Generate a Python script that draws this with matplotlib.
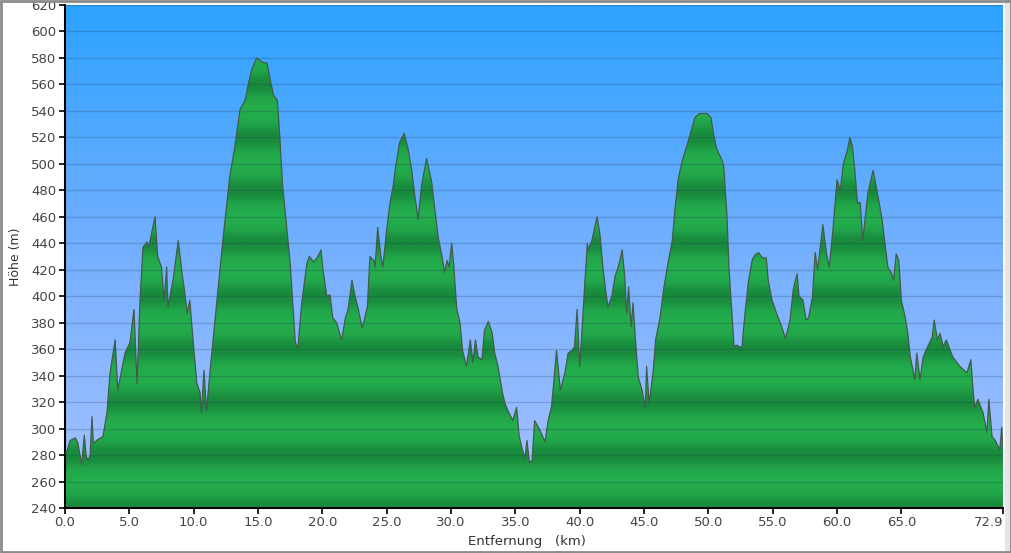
import numpy as np
import matplotlib
matplotlib.use("Agg")
import matplotlib.pyplot as plt
from matplotlib.colors import LinearSegmentedColormap
from matplotlib.patches import Polygon, Rectangle

# ---- data ----
km = [0.0, 0.15, 0.4, 0.8, 1.0, 1.3, 1.5, 1.65, 1.8, 1.95, 2.1, 2.2, 2.6, 2.95, 3.26, 3.5, 3.9, 4.1,
      4.66, 5.05, 5.36, 5.6, 5.83, 6.06, 6.37, 6.5, 7.0, 7.2, 7.5, 7.7, 7.9, 8.0, 8.4, 8.8, 9.1, 9.25,
      9.5, 9.7, 9.95, 10.25, 10.5, 10.6, 10.8, 11.0, 11.3, 11.8, 12.3, 12.8, 13.2, 13.6, 14.0, 14.2,
      14.5, 14.9, 15.3, 15.7, 15.9, 16.2, 16.5, 16.7, 16.9, 17.25, 17.5, 17.7, 17.9, 18.1, 18.4, 18.8,
      19.0, 19.3, 19.6, 19.9, 20.05, 20.35, 20.6, 20.8, 21.1, 21.5, 21.8, 22.0, 22.3, 22.5, 22.8, 23.1,
      23.3, 23.5, 23.7, 24.0, 24.1, 24.3, 24.55, 24.7, 25.0, 25.25, 25.5, 25.7, 26.0, 26.35, 26.65,
      26.95, 27.2, 27.45, 27.7, 28.1, 28.5, 28.75, 29.0, 29.3, 29.5, 29.7, 29.85, 30.05, 30.2, 30.45,
      30.7, 30.9, 31.2, 31.5, 31.7, 31.9, 32.1, 32.4, 32.6, 32.9, 33.2, 33.4, 33.65, 34.0, 34.2, 34.4,
      34.8, 35.1, 35.3, 35.6, 35.75, 35.9, 36.1, 36.3, 36.5, 36.9, 37.3, 37.55, 37.8, 37.95, 38.2,
      38.5, 38.85, 39.1, 39.4, 39.6, 39.8, 40.0, 40.2, 40.4, 40.6, 40.65, 40.95, 41.35, 41.6, 41.8,
      42.05, 42.2, 42.5, 42.75, 43.0, 43.3, 43.5, 43.65, 43.8, 44.0, 44.15, 44.3, 44.55, 44.85, 45.1,
      45.2, 45.4, 45.7, 45.9, 46.25, 46.55, 46.9, 47.2, 47.4, 47.65, 47.8, 48.0, 48.4, 48.7, 48.95,
      49.3, 49.9, 50.2, 50.4, 50.6, 50.8, 51.05, 51.2, 51.45, 51.6, 51.8, 52.0, 52.2, 52.6, 52.85,
      53.1, 53.4, 53.6, 53.9, 54.2, 54.5, 54.65, 54.95, 55.3, 55.7, 56.0, 56.35, 56.6, 56.9, 57.05,
      57.35, 57.6, 57.8, 58.1, 58.3, 58.5, 58.9, 59.2, 59.4, 59.7, 60.0, 60.25, 60.5, 60.8, 61.0,
      61.2, 61.4, 61.6, 61.8, 62.0, 62.2, 62.4, 62.8, 63.1, 63.5, 63.7, 63.95, 64.25, 64.4, 64.6,
      64.8, 65.0, 65.3, 65.5, 65.7, 66.05, 66.2, 66.45, 66.7, 66.9, 67.05, 67.4, 67.55, 67.8, 68.0,
      68.25, 68.5, 68.8, 69.0, 69.55, 70.1, 70.4, 70.55, 70.7, 70.95, 71.35, 71.65, 71.8, 72.05,
      72.3, 72.65, 72.8, 72.9]
elev = [281, 283, 291, 293, 289, 273, 295, 279, 276, 280, 309, 289, 292, 294, 312, 342, 367, 329,
        357, 365, 390, 334, 397, 437, 441, 437, 460, 430, 422, 397, 422, 392, 412, 442, 417, 407,
        387, 397, 367, 334, 327, 312, 344, 314, 346, 396, 445, 490, 513, 541, 548, 558,
        571, 580, 577, 576, 566, 552, 548, 520, 485, 450, 425, 395, 365, 361, 395, 425,
        430, 426, 429, 435, 420, 400, 401, 384, 380, 367, 384, 390, 412, 402, 390, 376,
        384, 392, 430, 427, 422, 452, 430, 422, 450, 470, 483, 498, 516, 523, 512,
        495, 475, 458, 483, 504, 486, 465, 445, 430, 418, 427, 422, 440, 425, 390,
        380, 359, 347, 367, 350, 367, 354, 352, 374, 381, 372, 357, 347, 327, 319, 314,
        306, 316, 294, 282, 278, 291, 274, 276, 306, 299, 290, 306, 316, 331, 359,
        329, 342, 357, 359, 362, 390, 347, 377, 410, 440, 435, 442, 460, 445, 422,
        402, 392, 400, 415, 422, 435, 415, 387, 407, 377, 395, 372, 339, 329, 316,
        347, 319, 342, 367, 384, 407, 427, 442, 465, 488, 495, 503, 516, 526, 535,
        538, 538, 535, 523, 513, 508, 503, 498, 460, 422, 392, 362, 363, 361, 387,
        410, 427, 431, 433, 429, 429, 412, 397, 387, 377, 368, 382, 405, 417, 400,
        397, 382, 384, 400, 433, 420, 454, 431, 422, 452, 488, 480, 500, 510, 520,
        513, 493, 470, 471, 442, 460, 478, 495, 480, 458, 442, 422, 417, 412, 432,
        427, 397, 384, 372, 354, 337, 357, 337, 354, 359, 362, 369, 382, 367, 372,
        362, 367, 359, 354, 347, 342, 352, 332, 316, 322, 312, 297, 322, 294,
        291, 284, 301, 285]

x_ticks = [0.0, 5.0, 10.0, 15.0, 20.0, 25.0, 30.0, 35.0, 40.0, 45.0, 50.0, 55.0, 60.0, 65.0, 72.9]
y_ticks = list(range(240, 621, 20))
x_label = "Entfernung   (km)"
y_label = "Höhe (m)"

XMIN, XMAX, YMIN, YMAX = 0.0, 72.9, 240, 620

fig = plt.figure(figsize=(10.12, 5.53), dpi=100)
fig.patch.set_facecolor("white")
ax = fig.add_axes([65/1012, 45/553, 938/1012, 503/553])
ax.set_xlim(XMIN, XMAX)
ax.set_ylim(YMIN, YMAX)

# sky gradient
bg = np.linspace(0, 1, 256).reshape(-1, 1)
cmap_bg = LinearSegmentedColormap.from_list("bg", ["#a8c3ff", "#76b0ff", "#2ca2ff"])
ax.imshow(bg, extent=[XMIN, XMAX, YMIN, YMAX], origin="lower", cmap=cmap_bg,
          aspect="auto", zorder=0, interpolation="bilinear")

# banded green fill
yy = np.linspace(YMIN, YMAX, 2000)
val = 0.5 - 0.5 * np.cos(2 * np.pi * (yy - YMIN) / 40.0)
cmap_g = LinearSegmentedColormap.from_list("g", ["#188a3c", "#21a449", "#24ad4c"])
im = ax.imshow(val.reshape(-1, 1), extent=[XMIN, XMAX, YMIN, YMAX], origin="lower",
               cmap=cmap_g, aspect="auto", zorder=1, interpolation="bilinear")
verts = list(zip(km, elev)) + [(km[-1], YMIN), (km[0], YMIN)]
poly = Polygon(verts, closed=True, facecolor="none", edgecolor="none", transform=ax.transData)
ax.add_patch(poly)
im.set_clip_path(poly)

ax.plot(km, elev, color="#435a4c", lw=0.9, zorder=3)

# grid
ax.set_yticks(y_ticks)
ax.yaxis.grid(True, color="#1b3250", alpha=0.22, lw=1.0)
ax.xaxis.grid(False)
ax.set_axisbelow(False)
for gl in ax.get_ygridlines():
    gl.set_zorder(2.5)

ax.set_xticks(x_ticks)
ax.set_xticklabels([f"{v:.1f}" for v in x_ticks])
ax.tick_params(axis="both", direction="out", length=4, width=1.2, color="black",
               labelsize=9.5, labelcolor="#444444", pad=2)
ax.get_xticklabels()[-1].set_horizontalalignment("right")

for s in ["top", "right"]:
    ax.spines[s].set_visible(False)
for s in ["left", "bottom"]:
    ax.spines[s].set_color("black")
    ax.spines[s].set_linewidth(1.5)

ax.set_ylabel(y_label, fontsize=9, color="#333333")
ax.yaxis.set_label_coords((22 - 65) / 938, 0.5)
ax.set_xlabel(x_label, fontsize=9.5, color="#333333")
ax.xaxis.set_label_coords((527 - 65) / 938, (508 - 535) / 503)

# window-like frame
fig.patches.append(Rectangle((1005/1012, 0), 7/1012, 1, transform=fig.transFigure,
                             facecolor="#e6e6e6", edgecolor="none", zorder=-1))
fig.patches.append(Rectangle((0.001, 0.001), 0.998, 0.997, transform=fig.transFigure,
                             fill=False, edgecolor="#8a8a8a", lw=2))

fig.savefig("out.png", dpi=100)
